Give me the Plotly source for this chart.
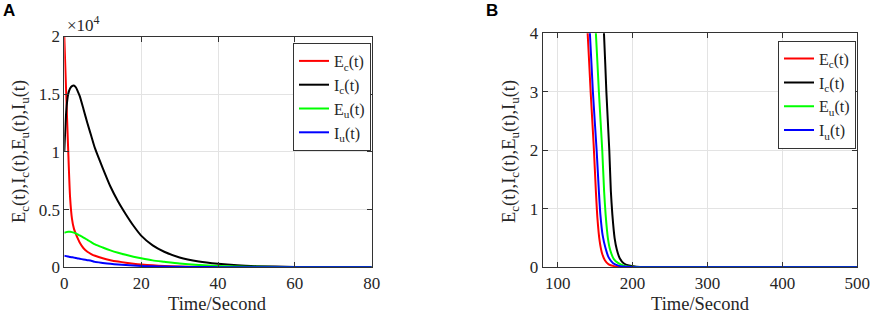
import plotly.graph_objects as go

# ---------------- data: panel A ----------------
t_a = [0, 0.5, 1, 1.5, 2, 2.5, 3, 3.5, 4, 5, 6, 7, 8, 10, 12, 14, 16, 18, 20,
       23, 26, 30, 35, 40, 45, 50, 60, 70, 80]
ec_a = [20000, 15000, 10300, 6100, 4200, 3350, 2900, 2500, 2150, 1650, 1350, 1150,
        1000, 780, 620, 500, 400, 310, 240, 170, 120, 70, 40, 20, 10, 6, 2, 0, 0]
ic_a = [10000, 13500, 15000, 15500, 15700, 15750, 15600, 15250, 14850, 13700, 12500,
        11400, 10300, 8600, 7000, 5700, 4600, 3600, 2750, 1900, 1350, 850, 500, 300,
        170, 100, 35, 10, 3]
eu_a = [3000, 3050, 3080, 3080, 3050, 3000, 2930, 2850, 2760, 2580, 2380, 2180, 1990,
        1720, 1470, 1260, 1080, 920, 780, 600, 480, 330, 200, 110, 65, 38, 12, 4, 1]
iu_a = [1000, 970, 940, 900, 870, 840, 800, 770, 740, 680, 620, 560, 470, 380, 300,
        240, 190, 150, 120, 85, 60, 38, 22, 12, 7, 4, 1, 0, 0]

# ---------------- data: panel B ----------------
t_ec_b = [138, 140, 144, 148, 151, 153, 156, 159, 163, 168, 175, 185, 200, 230, 300, 400, 500]
ec_b = [4.3, 4.0, 3.0, 2.1, 1.3, 0.85, 0.45, 0.25, 0.12, 0.05, 0.02, 0.006, 0.001, 0, 0, 0, 0]
t_ic_b = [160, 161.8, 165, 168.9, 171, 173, 176, 179, 183, 188, 195, 205, 220, 245, 300, 400, 500]
ic_b = [4.3, 4.0, 3.0, 2.0, 1.3, 0.9, 0.5, 0.3, 0.15, 0.07, 0.03, 0.01, 0.003, 0, 0, 0, 0]
t_eu_b = [149, 151, 155, 159.5, 162, 164, 167, 170, 175, 181, 189, 200, 212, 240, 300, 400, 500]
eu_b = [4.3, 4.0, 3.0, 2.0, 1.3, 0.9, 0.5, 0.3, 0.14, 0.07, 0.025, 0.008, 0.002, 0, 0, 0, 0]
t_iu_b = [141, 143, 147, 152, 155, 157, 160, 164, 168, 174, 182, 192, 205, 235, 300, 400, 500]
iu_b = [4.3, 4.0, 3.0, 2.0, 1.3, 0.9, 0.55, 0.32, 0.17, 0.07, 0.025, 0.008, 0.002, 0, 0, 0, 0]

names = ["E<sub>c</sub>(t)", "I<sub>c</sub>(t)", "E<sub>u</sub>(t)", "I<sub>u</sub>(t)"]
colors = ["#ff0000", "#000000", "#00ff00", "#0000ff"]

xticks_a = [0, 20, 40, 60, 80]
yticks_a = [0, 5000, 10000, 15000, 20000]
yticklabels_a = ["0", "0.5", "1", "1.5", "2"]
xticks_b = [100, 200, 300, 400, 500]
yticks_b = [0, 1, 2, 3, 4]

ytitle = "E<sub>c</sub>(t),I<sub>c</sub>(t),E<sub>u</sub>(t),I<sub>u</sub>(t)"
xtitle = "Time/Second"

SERIF = "Liberation Serif"
SANS = "Liberation Sans"
W, H = 872, 314

fig = go.Figure()
for ys, nm, c in zip([ec_a, ic_a, eu_a, iu_a], names, colors):
    fig.add_trace(go.Scatter(x=t_a, y=ys, name=nm, mode="lines",
                             line=dict(color=c, width=2, shape="spline", smoothing=0.6),
                             xaxis="x", yaxis="y", legend="legend"))
for xs, ys, nm, c in zip([t_ec_b, t_ic_b, t_eu_b, t_iu_b], [ec_b, ic_b, eu_b, iu_b], names, colors):
    fig.add_trace(go.Scatter(x=xs, y=ys, name=nm, mode="lines",
                             line=dict(color=c, width=2, shape="spline", smoothing=0.6),
                             xaxis="x2", yaxis="y2", legend="legend2"))

axis_common = dict(showline=True, linecolor="#333333", linewidth=1, mirror="ticks",
                   ticks="inside", ticklen=5, tickcolor="#333333", showgrid=True,
                   gridcolor="#e3e3e3", gridwidth=1, zeroline=False, automargin=False,
                   tickfont=dict(family=SERIF, size=17, color="#262626"))

leg_common = dict(xanchor="left", yanchor="top", bgcolor="white",
                  bordercolor="#333333", borderwidth=1,
                  font=dict(family=SERIF, size=16, color="#262626"))

fig.update_layout(
    width=W, height=H, margin=dict(l=0, r=0, t=0, b=0, pad=0, autoexpand=False),
    paper_bgcolor="white", plot_bgcolor="white",
    font=dict(family=SERIF, size=17, color="#262626"),
    xaxis=dict(domain=[64.3 / W, 371.7 / W], range=[0, 80], tickvals=xticks_a,
               anchor="y", **axis_common),
    yaxis=dict(domain=[1 - 267.3 / H, 1 - 36.5 / H], range=[0, 20000], tickvals=yticks_a,
               ticktext=yticklabels_a, anchor="x", **axis_common),
    xaxis2=dict(domain=[542.7 / W, 857.3 / W], range=[80, 500], tickvals=xticks_b,
                anchor="y2", **axis_common),
    yaxis2=dict(domain=[1 - 267.3 / H, 1 - 33.3 / H], range=[0, 4], tickvals=yticks_b,
                anchor="x2", **axis_common),
    legend=dict(x=293 / W, y=1 - 43 / H, **leg_common),
    legend2=dict(x=778 / W, y=1 - 40.7 / H, **leg_common),
    showlegend=True,
)

ann = []
for txt, xc in [("<b>A</b>", 9), ("<b>B</b>", 492)]:
    ann.append(dict(text=txt, x=xc / W, y=1 - 11 / H, xref="paper", yref="paper",
                    showarrow=False, xanchor="center", yanchor="middle",
                    font=dict(family=SANS, size=17, color="black")))
ann.append(dict(text="×10<sup>4</sup>", x=65 / W, y=1 - 24 / H, xref="paper", yref="paper",
                showarrow=False, xanchor="left", yanchor="middle",
                font=dict(family=SERIF, size=17, color="#262626")))
for xc in [20, 510]:
    ann.append(dict(text=ytitle, x=xc / W, y=1 - 152 / H, xref="paper", yref="paper",
                    showarrow=False, textangle=-90, xanchor="center", yanchor="middle",
                    font=dict(family=SERIF, size=18.5, color="#262626")))
for xc in [217.5, 700]:
    ann.append(dict(text=xtitle, x=xc / W, y=1 - 303.5 / H, xref="paper", yref="paper",
                    showarrow=False, xanchor="center", yanchor="middle",
                    font=dict(family=SERIF, size=18.5, color="#262626")))
fig.update_layout(annotations=ann)

fig.write_html(
    "out.html",
    config={"displayModeBar": False},
    post_script="document.body.style.margin='0';"
                "document.body.style.overflow='hidden';"
                "document.documentElement.style.overflow='hidden';",
)
